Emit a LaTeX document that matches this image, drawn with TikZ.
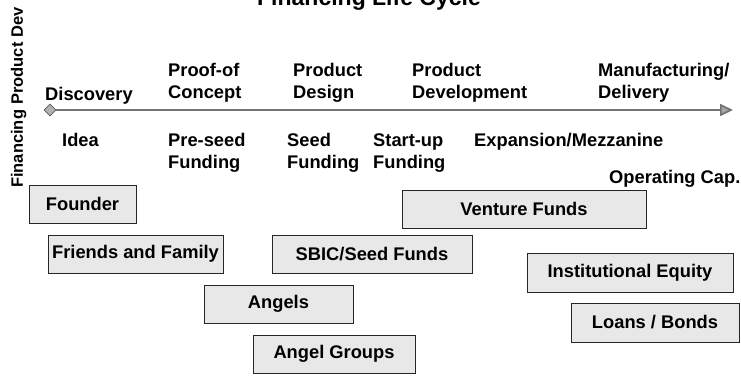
\documentclass[tikz,border=0pt]{standalone}
\usepackage{fontspec}
\setmainfont{Liberation Sans}
\usetikzlibrary{arrows.meta,shapes.geometric}
\begin{document}
\begin{tikzpicture}[x=1pt,y=-1pt,
  lbl/.style={anchor=base west,inner sep=0pt,font=\fontsize{18.3}{22}\selectfont\bfseries},
  fundbox/.style={draw=black!85,fill=black!9,line width=0.9pt,inner sep=0pt,
    minimum height=38pt,font=\fontsize{18.3}{22}\selectfont\bfseries},
  axislbl/.style={anchor=base west,inner sep=0pt,rotate=90,font=\fontsize{16.5}{20}\selectfont\bfseries}]
\useasboundingbox (0,0) rectangle (741,375);
% title
\node[anchor=base,inner sep=0pt,font=\fontsize{23}{27}\selectfont\bfseries] (title) at (369,5) {Financing Life Cycle};
% vertical axis labels
\node[axislbl] (fin) at (23,188) {Financing};
\node[axislbl] (pdev) at (23,105) {Product Dev};
% timeline
\node[diamond,draw=black!65,fill=black!30,line width=0.8pt,minimum size=12pt,inner sep=0pt] (start) at (50,110) {};
\coordinate (end) at (733,110);
\draw[black!55,line width=1.7pt,-{Triangle[length=13pt,width=12pt,fill=black!35,color=black!55]}] (start) -- (end);
% stages above
\node[lbl] (disc) at (45,100) {Discovery};
\node[lbl] (poc1) at (168,76) {Proof-of};
\node[lbl] (poc2) at (168,98) {Concept};
\node[lbl] (pd1) at (293,76) {Product};
\node[lbl] (pd2) at (293,98) {Design};
\node[lbl] (pdv1) at (412,76) {Product};
\node[lbl] (pdv2) at (412,98) {Development};
\node[lbl] (mfg1) at (598,76) {Manufacturing/};
\node[lbl] (mfg2) at (598,98) {Delivery};
% financing stages below
\node[lbl] (idea) at (62,146) {Idea};
\node[lbl] (pre1) at (168,146) {Pre-seed};
\node[lbl] (pre2) at (168,168) {Funding};
\node[lbl] (seed1) at (287,146) {Seed};
\node[lbl] (seed2) at (287,168) {Funding};
\node[lbl] (su1) at (373,146) {Start-up};
\node[lbl] (su2) at (373,168) {Funding};
\node[lbl] (exp) at (474,146) {Expansion/Mezzanine};
\node[lbl] (opc) at (609,183) {Operating Cap.};
% funding sources
\node[fundbox,minimum width=107pt] (founder) at (82.5,204) {Founder};
\node[fundbox,minimum width=175pt] (ff) at (135.5,254) {Friends and Family};
\node[fundbox,minimum width=200pt] (sbic) at (372,254) {SBIC/Seed Funds};
\node[fundbox,minimum width=149pt] (angels) at (278.5,304) {Angels};
\node[fundbox,minimum width=162pt] (ag) at (334,354) {Angel Groups};
\node[fundbox,minimum width=244pt] (vf) at (524,209) {Venture Funds};
\node[fundbox,minimum width=206pt,minimum height=39pt] (ie) at (630,272.5) {Institutional Equity};
\node[fundbox,minimum width=168pt,minimum height=39pt] (lb) at (655,322.5) {Loans / Bonds};
\end{tikzpicture}
\end{document}
